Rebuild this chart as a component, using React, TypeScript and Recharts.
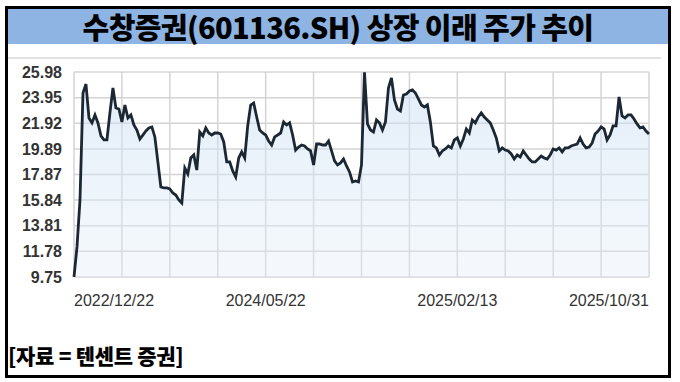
import { Area, AreaChart, CartesianGrid, XAxis, YAxis } from 'recharts';

const prices = [
  9.75, 12.13, 15.85, 24.32, 25.03, 22.34, 21.95, 22.58, 21.95, 20.92,
  20.6, 20.6, 22.74, 24.72, 23.13, 23.05, 22.03, 23.37, 22.34, 22.58,
  21.79, 21.39, 20.68, 20.99, 21.31, 21.55, 21.63, 20.84, 18.86, 16.88,
  16.8, 16.8, 16.72, 16.4, 16.24, 15.85, 15.61, 18.38, 17.91, 19.17,
  19.41, 18.22, 21.23, 20.92, 21.55, 21.15, 20.99, 21.15, 21.15, 21.07,
  20.44, 18.86, 18.86, 18.15, 17.67, 19.17, 19.65, 19.17, 21.71, 23.37,
  23.53, 22.42, 21.39, 21.15, 20.99, 20.52, 20.2, 20.84, 20.99, 21.15,
  22.03, 21.79, 21.95, 20.99, 19.8, 20.04, 20.2, 20.12, 19.89, 19.73,
  18.62, 20.28, 20.28, 20.2, 20.2, 20.52, 19.73, 18.94, 18.62, 18.78,
  19.09, 18.54, 18.07, 17.27, 17.35, 17.27, 18.62, 25.96, 21.87, 21.39,
  21.23, 22.18, 21.95, 21.39, 22.03, 24.72, 25.51, 23.77, 23.05, 22.9,
  24.16, 24.24, 24.48, 24.56, 24.32, 23.85, 23.37, 23.21, 23.37, 22.03,
  20.12, 19.97, 19.41, 19.73, 19.89, 20.12, 19.97, 20.6, 20.76, 20.12,
  20.68, 21.47, 21.15, 22.18, 21.95, 22.42, 22.74, 22.42, 22.18, 21.95,
  21.39, 20.76, 19.73, 19.97, 19.8, 19.73, 19.49, 19.09, 19.41, 19.25,
  19.73, 19.41, 19.09, 18.86, 18.86, 19.09, 19.33, 19.17, 19.09, 19.41,
  19.89, 19.8, 19.97, 19.65, 19.97, 19.97, 20.12, 20.2, 20.28, 20.76,
  20.28, 19.97, 20.04, 20.36, 21.07, 21.31, 21.63, 21.47, 20.6, 20.99,
  21.71, 21.71, 24.0, 22.5, 22.34, 22.58, 22.58, 22.26, 21.87, 21.55,
  21.63, 21.31, 21.07,
];

const yTicks = [9.75, 11.78, 13.81, 15.84, 17.87, 19.89, 21.92, 23.95, 25.98];
const xTickIdx = [0, 64, 128, 192];
const xTickLabels = ['2022/12/22', '2024/05/22', '2025/02/13', '2025/10/31'];

const data = prices.map((price, idx) => ({ idx, price }));
const lastIdx = prices.length - 1;

function DateTick(props: any) {
  const { x, y, payload } = props;
  const pos = xTickIdx.indexOf(payload.value);
  const anchor = payload.value === 0 ? 'start' : payload.value === lastIdx ? 'end' : 'middle';
  return (
    <text
      x={x}
      y={y}
      dy="0.71em"
      textAnchor={anchor}
      fill="#333"
      fontSize={16}
      fontFamily="'Liberation Sans', Arial, sans-serif"
    >
      {xTickLabels[pos]}
    </text>
  );
}

export default function App() {
  return (
    <div
      style={{
        position: 'fixed',
        left: 0,
        top: 0,
        width: 680,
        height: 382,
        background: '#fff',
        overflow: 'hidden',
      }}
    >
      <div
        style={{
          position: 'absolute',
          left: 5,
          top: 6,
          width: 666,
          height: 372,
          border: '3px solid #000',
          boxSizing: 'border-box',
        }}
      />
      <div
        style={{
          position: 'absolute',
          left: 8,
          top: 9,
          width: 660,
          height: 35,
          background: '#8db4e2',
          textAlign: 'center',
          lineHeight: '35px',
          fontFamily: "'Noto Sans CJK KR', sans-serif",
          fontWeight: 900,
          fontSize: 29,
          color: '#000',
          letterSpacing: -0.6,
        }}
      >
        수창증권(601136.SH) 상장 이래 주가 추이
      </div>
      <div
        style={{
          position: 'absolute',
          left: 8,
          top: 57,
          width: 653,
          height: 2,
          background: '#e2e2e2',
        }}
      />
      <div style={{ position: 'absolute', left: 0, top: 0 }}>
        <AreaChart
          width={680}
          height={382}
          data={data}
          margin={{ top: 72, right: 31, bottom: 75, left: 0 }}
        >
          <defs>
            <linearGradient id="priceFill" x1="0" y1="0" x2="0" y2="1">
              <stop offset="0%" stopColor="#c8ddf3" stopOpacity={0.9} />
              <stop offset="100%" stopColor="#e3eef9" stopOpacity={0.6} />
            </linearGradient>
          </defs>
          <CartesianGrid
            stroke="#d4d4d4"
            strokeWidth={1.5}
            verticalCoordinatesGenerator={({ offset }: any) =>
              Array.from({ length: 13 }, (_, k) => offset.left + (k * offset.width) / 12)
            }
          />
          <XAxis
            dataKey="idx"
            type="number"
            domain={[0, lastIdx]}
            ticks={xTickIdx}
            interval={0}
            axisLine={false}
            tickLine={false}
            tickSize={0}
            tickMargin={18}
            height={30}
            tick={<DateTick />}
          />
          <YAxis
            type="number"
            domain={[9.75, 25.98]}
            ticks={yTicks}
            interval={0}
            axisLine={false}
            tickLine={false}
            tickSize={0}
            tickMargin={12}
            width={74}
            tick={{
              fill: '#333',
              fontSize: 16,
              fontWeight: 700,
              fontFamily: "'Liberation Sans', Arial, sans-serif",
            }}
            tickFormatter={(v: number) => v.toFixed(2)}
            allowDataOverflow
          />
          <Area
            type="linear"
            dataKey="price"
            stroke="#1b2733"
            strokeWidth={2.8}
            fill="url(#priceFill)"
            baseValue={9.75}
            isAnimationActive={false}
          />
        </AreaChart>
      </div>
      <div
        style={{
          position: 'absolute',
          left: 8,
          top: 342,
          fontFamily: "'Noto Sans CJK KR', sans-serif",
          fontWeight: 900,
          fontSize: 21,
          color: '#000',
          lineHeight: '26px',
          whiteSpace: 'nowrap',
          letterSpacing: -0.3,
        }}
      >
        [자료 = 텐센트 증권]
      </div>
    </div>
  );
}
